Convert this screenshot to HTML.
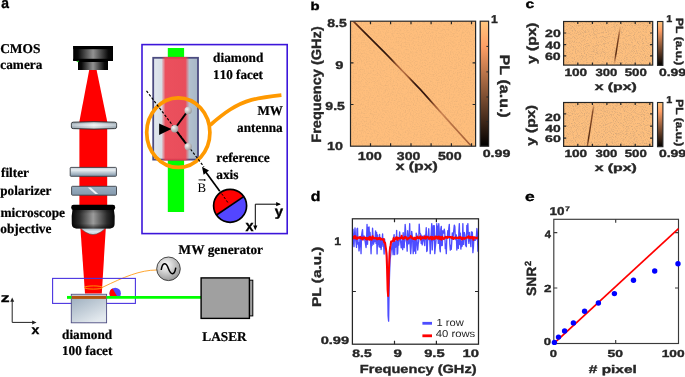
<!DOCTYPE html>
<html><head><meta charset="utf-8"><style>
html,body{margin:0;padding:0;background:#fff;}
body{width:685px;height:377px;overflow:hidden;}
svg{display:block;filter:blur(0.35px);}
text{font-kerning:none;font-variant-ligatures:none;text-rendering:geometricPrecision;}
</style></head><body>
<svg width="685" height="377" viewBox="0 0 685 377">
<defs>
<linearGradient id="camG" x1="0" x2="1" y1="0" y2="0">
 <stop offset="0" stop-color="#000"/><stop offset="0.12" stop-color="#0a0a0a"/><stop offset="0.5" stop-color="#929292"/><stop offset="0.88" stop-color="#0a0a0a"/><stop offset="1" stop-color="#000"/></linearGradient>
<linearGradient id="objG" x1="0" x2="1" y1="0" y2="0">
 <stop offset="0" stop-color="#050505"/><stop offset="0.18" stop-color="#2a2a2a"/><stop offset="0.5" stop-color="#9c9c9c"/><stop offset="0.82" stop-color="#2a2a2a"/><stop offset="1" stop-color="#050505"/></linearGradient>
<linearGradient id="objV" x1="0" x2="0" y1="0" y2="1">
 <stop offset="0" stop-color="#000" stop-opacity="0.35"/><stop offset="0.25" stop-color="#000" stop-opacity="0"/><stop offset="0.75" stop-color="#000" stop-opacity="0"/><stop offset="1" stop-color="#000" stop-opacity="0.6"/></linearGradient>
<linearGradient id="lensG" x1="0" x2="1" y1="0" y2="0">
 <stop offset="0" stop-color="#a8b9c5"/><stop offset="0.5" stop-color="#f7fafc"/><stop offset="1" stop-color="#a8b9c5"/></linearGradient>
<linearGradient id="lensV" x1="0" x2="0" y1="0" y2="1">
 <stop offset="0" stop-color="#000" stop-opacity="0.18"/><stop offset="0.45" stop-color="#fff" stop-opacity="0.3"/><stop offset="1" stop-color="#000" stop-opacity="0.12"/></linearGradient>
<linearGradient id="filtG" x1="0" x2="0" y1="0" y2="1">
 <stop offset="0" stop-color="#c0ccd6"/><stop offset="0.3" stop-color="#e8eef2"/><stop offset="1" stop-color="#7d93a6"/></linearGradient>
<linearGradient id="polG" x1="0" x2="0" y1="0" y2="1">
 <stop offset="0" stop-color="#9aafc1"/><stop offset="1" stop-color="#8499ad"/></linearGradient>
<linearGradient id="objLens" x1="0" x2="0" y1="0" y2="1">
 <stop offset="0" stop-color="#8fa0ad"/><stop offset="0.6" stop-color="#dde6ec"/><stop offset="1" stop-color="#c3d0d9"/></linearGradient>
<linearGradient id="diaG" x1="0" x2="0.6" y1="0" y2="1">
 <stop offset="0" stop-color="#97a9ba"/><stop offset="1" stop-color="#e3e9ee"/></linearGradient>
<linearGradient id="dia110" x1="0" x2="1" y1="0" y2="0">
 <stop offset="0" stop-color="#e2e8ee"/><stop offset="1" stop-color="#a7b7c6"/></linearGradient>
<linearGradient id="redBand" x1="0" x2="1" y1="0" y2="0">
 <stop offset="0" stop-color="#ef3d4b" stop-opacity="0"/><stop offset="0.14" stop-color="#ef3d4b" stop-opacity="0.88"/><stop offset="0.86" stop-color="#ef3d4b" stop-opacity="0.88"/><stop offset="1" stop-color="#ef3d4b" stop-opacity="0"/></linearGradient>
<radialGradient id="nodeG" cx="0.35" cy="0.35" r="0.7">
 <stop offset="0" stop-color="#f4f4f4"/><stop offset="1" stop-color="#9a9a9a"/></radialGradient>
<radialGradient id="genG" cx="0.4" cy="0.35" r="0.75">
 <stop offset="0" stop-color="#ffffff"/><stop offset="1" stop-color="#8c8c8c"/></radialGradient>
<linearGradient id="copper" x1="0" x2="0" y1="1" y2="0">
 <stop offset="0" stop-color="#000"/><stop offset="0.8" stop-color="#ff9f65"/><stop offset="1" stop-color="#ffc77f"/></linearGradient>
<filter id="noise" x="0" y="0" width="1" height="1">
 <feTurbulence type="fractalNoise" baseFrequency="0.75" numOctaves="2" seed="3"/>
 <feColorMatrix values="0 0 0 0 0.55  0 0 0 0 0.32  0 0 0 0 0.15  0.7 0 0 0 -0.30"/>
 <feComposite in2="SourceGraphic" operator="in"/>
</filter>
<filter id="noise2" x="0" y="0" width="1" height="1">
 <feTurbulence type="fractalNoise" baseFrequency="1.1" numOctaves="2" seed="8"/>
 <feColorMatrix values="0 0 0 0 0.62  0 0 0 0 0.36  0 0 0 0 0.18  2.2 0 0 0 -1.0"/>
 <feComposite in2="SourceGraphic" operator="in"/>
</filter>
<filter id="sb" x="-0.5" y="-0.5" width="2" height="2"><feGaussianBlur stdDeviation="0.45"/></filter>
<clipPath id="rbclip"><circle cx="230.1" cy="205.8" r="16.4"/></clipPath>
<clipPath id="rbclip2"><circle cx="115.2" cy="293.4" r="5.7"/></clipPath>
<clipPath id="bclip"><rect x="351" y="21.8" width="124.2" height="123.8"/></clipPath>
</defs>
<text transform="translate(1.19,7.55) scale(0.927,1.0)" font-family='"Liberation Sans", sans-serif' font-size="14.97" font-weight="bold" fill="#000" stroke="#000" stroke-width="0.35">a</text>
<polygon points="89.2,70 96.6,70 107.2,121.5 107.2,205 79.4,205 79.4,121.5" fill="#ff0000"/>
<polygon points="80.4,228 105.8,228 101.8,293.6 85,293.6" fill="#ff0000"/>
<rect x="73.2" y="46" width="39.8" height="14.6" fill="url(#camG)"/>
<rect x="73.2" y="46" width="39.8" height="3.2" fill="#000"/>
<rect x="78" y="60.6" width="30" height="9.4" fill="url(#camG)"/>
<rect x="73.2" y="58.8" width="39.8" height="2.2" fill="#000"/>
<rect x="78" y="60.6" width="30" height="1.4" fill="#000"/>
<path d="M76,61.6 l2.8,-1 l-0.3,1.7 z" fill="#1ed21e"/>
<path d="M71.4,123.6 Q71.4,122.3 73.2,122.2 Q94,121.2 114.7,122.2 Q116.6,122.3 116.6,123.6 L116.6,127.2 Q116.6,128.5 114.7,128.6 Q94,129.6 73.2,128.6 Q71.4,128.5 71.4,127.2 Z" fill="url(#lensG)" stroke="#2a2e33" stroke-width="0.95"/>
<path d="M71.4,123.6 Q71.4,122.3 73.2,122.2 Q94,121.2 114.7,122.2 Q116.6,122.3 116.6,123.6 L116.6,127.2 Q116.6,128.5 114.7,128.6 Q94,129.6 73.2,128.6 Q71.4,128.5 71.4,127.2 Z" fill="url(#lensV)"/>
<rect x="70.2" y="167.4" width="46.2" height="8.9" rx="0.8" fill="url(#filtG)" stroke="#3c4147" stroke-width="0.9"/>
<rect x="71.6" y="186.3" width="44.9" height="8.9" rx="0.8" fill="url(#polG)" stroke="#3c4147" stroke-width="0.9"/>
<path d="M87.8,187.6 L90.8,187.6 L98.2,194 L95.2,194 Z" fill="#eef3f7" filter="url(#sb)"/>
<path d="M79.5,227 L106.5,227 Q100,234.2 93,234.6 Q86,234.2 79.5,227 Z" fill="url(#objLens)" stroke="#555" stroke-width="0.6"/>
<path d="M72.6,209 L113.8,209 Q115.3,216 114.6,224 Q114.3,228.4 110,228.4 L76.4,228.4 Q72.1,228.4 71.8,224 Q71.1,216 72.6,209 Z" fill="url(#objG)"/>
<path d="M72.6,209 L113.8,209 Q115.3,216 114.6,224 Q114.3,228.4 110,228.4 L76.4,228.4 Q72.1,228.4 71.8,224 Q71.1,216 72.6,209 Z" fill="url(#objV)"/>
<rect x="71.2" y="204.8" width="44" height="5.3" rx="2.4" fill="#000"/>
<rect x="142" y="44.6" width="145.2" height="189" fill="none" stroke="#3c16da" stroke-width="1.6"/>
<rect x="167.8" y="48" width="16.3" height="164" fill="#00ff00"/>
<rect x="153.2" y="57.8" width="44.8" height="101.8" fill="url(#dia110)" stroke="#4c4c80" stroke-width="1.8"/>
<rect x="161.5" y="56.9" width="27.8" height="103.6" fill="url(#redBand)"/>
<ellipse cx="178.3" cy="132.6" rx="31.6" ry="34.8" fill="none" stroke="#ff9900" stroke-width="3.7"/>
<line x1="146.5" y1="90.8" x2="204" y2="167" stroke="#000" stroke-width="1.15" stroke-dasharray="2.6,1.7"/>
<line x1="174.7" y1="128.7" x2="188.2" y2="110.4" stroke="#000" stroke-width="1.9"/>
<line x1="174.7" y1="128.7" x2="188.2" y2="146.6" stroke="#000" stroke-width="1.9"/>
<polygon points="159.1,123.4 171.4,129 159.1,134.9" fill="#000"/>
<circle cx="174.7" cy="128.7" r="3.7" fill="url(#nodeG)"/>
<circle cx="188.2" cy="110.4" r="3.7" fill="url(#nodeG)"/>
<circle cx="188.2" cy="146.6" r="3.7" fill="url(#nodeG)"/>
<path d="M210.3,125 C224,113 236,104.2 251.5,99.9 C263.5,97 272,96.1 281.4,95.1" fill="none" stroke="#ff9900" stroke-width="3.7"/>
<line x1="219.8" y1="191.2" x2="205" y2="171" stroke="#000" stroke-width="1.7"/>
<polygon points="202,166.8 209,170.6 203.6,174.8" fill="#000"/>
<g clip-path="url(#rbclip)"><rect x="210" y="185" width="45" height="45" fill="#5346ff"/><polygon points="205,222 255,188.5 255,180 205,180" fill="#ff0000"/></g>
<line x1="216.5" y1="215" x2="243.7" y2="196.6" stroke="#000" stroke-width="1.7"/>
<circle cx="230.1" cy="205.8" r="16.5" fill="none" stroke="#000" stroke-width="1.7"/>
<line x1="221.6" y1="193.6" x2="228.6" y2="203.6" stroke="#000" stroke-width="1" stroke-dasharray="2.4,1.8"/>
<path d="M279.8,204.2 L255.3,204.2 L255.3,229.2" fill="none" stroke="#000" stroke-width="1"/>
<polygon points="280.8,204.2 276.2,202.1 276.2,206.3" fill="#000"/>
<polygon points="255.3,230.2 253.2,225.6 257.4,225.6" fill="#000"/>
<text transform="translate(274.63,215.80) scale(1.087,1.0)" font-family='"Liberation Sans", sans-serif' font-size="13.73" font-weight="bold" fill="#000" stroke="#000" stroke-width="0.35">y</text>
<text transform="translate(245.45,230.55) scale(0.939,1.0)" font-family='"Liberation Sans", sans-serif' font-size="15.33" font-weight="bold" fill="#000" stroke="#000" stroke-width="0.35">x</text>
<text transform="translate(213.11,62.35) scale(1.020,1.03)" font-family='"Liberation Serif", serif' font-size="13.05" font-weight="bold" fill="#000" stroke="#000" stroke-width="0.22">diamond</text>
<text transform="translate(213.10,79.35) scale(1.005,1.03)" font-family='"Liberation Serif", serif' font-size="13.05" font-weight="bold" fill="#000" stroke="#000" stroke-width="0.22">110 facet</text>
<text transform="translate(257.53,115.15) scale(1.002,1.03)" font-family='"Liberation Serif", serif' font-size="13.05" font-weight="bold" fill="#000" stroke="#000" stroke-width="0.22">MW</text>
<text transform="translate(237.12,131.85) scale(1.015,1.03)" font-family='"Liberation Serif", serif' font-size="13.05" font-weight="bold" fill="#000" stroke="#000" stroke-width="0.22">antenna</text>
<text transform="translate(216.29,162.35) scale(1.022,1.03)" font-family='"Liberation Serif", serif' font-size="13.05" font-weight="bold" fill="#000" stroke="#000" stroke-width="0.22">reference</text>
<text transform="translate(216.22,178.95) scale(1.023,1.03)" font-family='"Liberation Serif", serif' font-size="13.05" font-weight="bold" fill="#000" stroke="#000" stroke-width="0.22">axis</text>
<text transform="translate(197.58,191.91) scale(0.998,1.0)" font-family='"Liberation Serif", serif' font-size="12.92" font-weight="normal" fill="#000">B</text>
<line x1="198.6" y1="179.9" x2="205" y2="179.9" stroke="#000" stroke-width="0.9"/>
<polygon points="206.2,179.9 204.2,178.9 204.2,180.9" fill="#000"/>
<text transform="translate(0.14,52.55) scale(1.031,1.03)" font-family='"Liberation Serif", serif' font-size="13.05" font-weight="bold" fill="#000" stroke="#000" stroke-width="0.22">CMOS</text>
<text transform="translate(0.35,69.10) scale(1.015,1.03)" font-family='"Liberation Serif", serif' font-size="13.05" font-weight="bold" fill="#000" stroke="#000" stroke-width="0.22">camera</text>
<text transform="translate(1.05,177.35) scale(1.013,1.03)" font-family='"Liberation Serif", serif' font-size="13.05" font-weight="bold" fill="#000" stroke="#000" stroke-width="0.22">filter</text>
<text transform="translate(0.28,194.55) scale(1.008,1.03)" font-family='"Liberation Serif", serif' font-size="13.05" font-weight="bold" fill="#000" stroke="#000" stroke-width="0.22">polarizer</text>
<text transform="translate(0.39,216.65) scale(1.025,1.03)" font-family='"Liberation Serif", serif' font-size="13.05" font-weight="bold" fill="#000" stroke="#000" stroke-width="0.22">microscope</text>
<text transform="translate(0.24,232.75) scale(1.025,1.03)" font-family='"Liberation Serif", serif' font-size="13.05" font-weight="bold" fill="#000" stroke="#000" stroke-width="0.22">objective</text>
<path d="M102.5,287.3 C124,277 140,270 157,270" fill="none" stroke="#ff9c1a" stroke-width="0.9"/>
<rect x="52.6" y="278.4" width="82.8" height="25" fill="none" stroke="#4a34e0" stroke-width="1.1"/>
<rect x="71.3" y="294.3" width="35.3" height="28.5" fill="url(#diaG)" stroke="#4c4c80" stroke-width="0.9"/>
<rect x="71.8" y="294.8" width="34.3" height="1.3" fill="#c7c3cc"/>
<rect x="71.8" y="296" width="34.3" height="2.9" fill="#b0560f"/>
<g clip-path="url(#rbclip2)"><rect x="108" y="286" width="15" height="10.5" fill="#5346ff"/><polygon points="111.8,287.2 117.3,296.5 105,296.5 105,285" fill="#ff0000"/></g>
<line x1="67" y1="297.4" x2="71.3" y2="297.4" stroke="#00ff00" stroke-width="2.9"/>
<line x1="106.6" y1="297.4" x2="201" y2="297.4" stroke="#00ff00" stroke-width="2.9"/>
<ellipse cx="93.5" cy="287.5" rx="9.1" ry="1.6" fill="none" stroke="#ffa000" stroke-width="0.9"/>
<circle cx="168.5" cy="268.8" r="11.8" fill="url(#genG)" stroke="#222" stroke-width="0.8"/>
<path d="M161.2,270 C162.5,262 166,262 168.5,268.8 C171,275.6 174.5,275.6 175.8,267.6" fill="none" stroke="#000" stroke-width="1.5"/>
<text transform="translate(178.62,254.25) scale(1.017,1.03)" font-family='"Liberation Serif", serif' font-size="13.05" font-weight="bold" fill="#000" stroke="#000" stroke-width="0.22">MW generator</text>
<rect x="249.4" y="280.2" width="3.4" height="35.7" fill="#a0a0a0" stroke="#000" stroke-width="1"/>
<rect x="201.1" y="277.9" width="48.3" height="40.5" fill="#a0a0a0" stroke="#000" stroke-width="1.4"/>
<text transform="translate(202.32,340.55) scale(1.018,1.03)" font-family='"Liberation Serif", serif' font-size="13.05" font-weight="bold" fill="#000" stroke="#000" stroke-width="0.22">LASER</text>
<text transform="translate(62.01,338.75) scale(1.018,1.03)" font-family='"Liberation Serif", serif' font-size="13.05" font-weight="bold" fill="#000" stroke="#000" stroke-width="0.22">diamond</text>
<text transform="translate(61.99,355.45) scale(1.016,1.03)" font-family='"Liberation Serif", serif' font-size="13.05" font-weight="bold" fill="#000" stroke="#000" stroke-width="0.22">100 facet</text>
<path d="M12.2,300.5 L12.2,322.4 L34,322.4" fill="none" stroke="#222" stroke-width="1"/>
<polygon points="12.2,297.5 10.2,301.8 14.2,301.8" fill="#222"/>
<polygon points="36.5,322.4 32.2,320.4 32.2,324.4" fill="#222"/>
<text transform="translate(0.84,301.65) scale(1.395,1.0)" font-family='"Liberation Sans", sans-serif' font-size="12.68" font-weight="bold" fill="#000" stroke="#000" stroke-width="0.35">z</text>
<text transform="translate(31.45,333.85) scale(1.106,1.0)" font-family='"Liberation Sans", sans-serif' font-size="12.68" font-weight="bold" fill="#000" stroke="#000" stroke-width="0.35">x</text>
<text transform="translate(310.57,9.94) scale(1.286,1.0)" font-family='"Liberation Sans", sans-serif' font-size="11.57" font-weight="bold" fill="#000" stroke="#000" stroke-width="0.35">b</text>
<rect x="350.5" y="21.2" width="125.10000000000002" height="124.99999999999999" fill="#ffbe7c"/>
<rect x="350.5" y="21.2" width="125.10000000000002" height="124.99999999999999" fill="#fff" filter="url(#noise)"/>
<linearGradient id="diagG" gradientUnits="userSpaceOnUse" x1="350" y1="0" x2="476" y2="0">
 <stop offset="0" stop-color="#9a5630"/>
 <stop offset="0.05" stop-color="#6a3418"/>
 <stop offset="0.11" stop-color="#3a1a0a"/>
 <stop offset="0.27" stop-color="#2a1208"/>
 <stop offset="0.33" stop-color="#4a2410"/>
 <stop offset="0.37" stop-color="#9a5630"/>
 <stop offset="0.42" stop-color="#b87244"/>
 <stop offset="0.46" stop-color="#a05c34"/>
 <stop offset="0.49" stop-color="#5a2c14"/>
 <stop offset="0.52" stop-color="#2e140a"/>
 <stop offset="0.62" stop-color="#3a1a0c"/>
 <stop offset="0.67" stop-color="#9a5630"/>
 <stop offset="0.73" stop-color="#cc8452"/>
 <stop offset="0.80" stop-color="#b87244"/>
 <stop offset="0.92" stop-color="#a86238"/>
 <stop offset="1" stop-color="#9a5630"/>
</linearGradient>
<g clip-path="url(#bclip)" filter="url(#sb)">
<polyline points="349.8,18.0 353.7,21.6 385.5,53.4 420.5,89.6 451.8,124.6 470.5,145.2 472,147" fill="none" stroke="url(#diagG)" stroke-width="1.6" stroke-linejoin="round"/>
</g>
<rect x="350.5" y="21.2" width="125.10000000000002" height="124.99999999999999" fill="none" stroke="#262626" stroke-width="1.2"/>
<path d="M370.5,146.2v-3M370.5,21.2v3M390.6,146.2v-3M390.6,21.2v3M411,146.2v-3M411,21.2v3M431.1,146.2v-3M431.1,21.2v3M451.4,146.2v-3M451.4,21.2v3M471.5,146.2v-3M471.5,21.2v3M350.5,62.8h3M475.6,62.8h-3M350.5,104.5h3M475.6,104.5h-3" stroke="#262626" stroke-width="1.2"/>
<rect x="480.2" y="21.2" width="8.4" height="125" fill="url(#copper)" stroke="#262626" stroke-width="1.2"/>
<path d="M488.6,46.4h-2.2M488.6,71.9h-2.2M488.6,97h-2.2M488.6,121.7h-2.2" stroke="#262626" stroke-width="1"/>
<text transform="translate(490.88,23.25) scale(1.094,1.0)" font-family='"Liberation Sans", sans-serif' font-size="11.19" font-weight="bold" fill="#262626" stroke="#262626" stroke-width="0.35">1</text>
<text transform="translate(482.69,157.05) scale(1.361,1.0)" font-family='"Liberation Sans", sans-serif' font-size="10.45" font-weight="bold" fill="#262626" stroke="#262626" stroke-width="0.35">0.99</text>
<text transform="translate(327.20,26.94) scale(1.213,1.0)" font-family='"Liberation Sans", sans-serif' font-size="11.58" font-weight="bold" fill="#262626" stroke="#262626" stroke-width="0.35">8.5</text>
<text transform="translate(335.34,68.74) scale(1.314,1.0)" font-family='"Liberation Sans", sans-serif' font-size="11.16" font-weight="bold" fill="#262626" stroke="#262626" stroke-width="0.35">9</text>
<text transform="translate(325.36,109.54) scale(1.216,1.0)" font-family='"Liberation Sans", sans-serif' font-size="11.58" font-weight="bold" fill="#262626" stroke="#262626" stroke-width="0.35">9.5</text>
<text transform="translate(327.05,149.84) scale(1.233,1.0)" font-family='"Liberation Sans", sans-serif' font-size="11.58" font-weight="bold" fill="#262626" stroke="#262626" stroke-width="0.35">10</text>
<text transform="translate(357.64,160.14) scale(1.247,1.0)" font-family='"Liberation Sans", sans-serif' font-size="11.58" font-weight="bold" fill="#262626" stroke="#262626" stroke-width="0.35">100</text>
<text transform="translate(396.83,160.12) scale(1.219,1.0)" font-family='"Liberation Sans", sans-serif' font-size="11.56" font-weight="bold" fill="#262626" stroke="#262626" stroke-width="0.35">300</text>
<text transform="translate(437.91,160.14) scale(1.228,1.0)" font-family='"Liberation Sans", sans-serif' font-size="11.58" font-weight="bold" fill="#262626" stroke="#262626" stroke-width="0.35">500</text>
<text transform="translate(395.64,170.02) scale(1.350,1.0)" font-family='"Liberation Sans", sans-serif' font-size="11.69" font-weight="bold" fill="#262626" stroke="#262626" stroke-width="0.35">x (px)</text>
<text transform="translate(320.94,142.72) rotate(-90) scale(1.077,1)" font-family='"Liberation Sans", sans-serif' font-size="13.52" font-weight="bold" fill="#262626" stroke="#262626" stroke-width="0.35">Frequency (GHz)</text>
<text transform="translate(499.84,54.68) rotate(90) scale(1.146,1)" font-family='"Liberation Sans", sans-serif' font-size="13.95" font-weight="bold" fill="#262626" stroke="#262626" stroke-width="0.35">PL (a.u.)</text>
<text transform="translate(525.44,8.33) scale(1.293,1.0)" font-family='"Liberation Sans", sans-serif' font-size="12.05" font-weight="bold" fill="#000" stroke="#000" stroke-width="0.35">c</text>
<rect x="563.6" y="21.5" width="89.10000000000002" height="43.599999999999994" fill="#fdbf7e"/>
<rect x="563.6" y="21.5" width="89.10000000000002" height="43.599999999999994" fill="#fff" filter="url(#noise2)"/>
<g filter="url(#sb)"><linearGradient id="s1g" gradientUnits="userSpaceOnUse" x1="0" y1="27" x2="0" y2="64"><stop offset="0" stop-color="#d08a50" stop-opacity="0.3"/><stop offset="0.2" stop-color="#8a4a24" stop-opacity="0.8"/><stop offset="0.35" stop-color="#7a4220"/><stop offset="0.72" stop-color="#54280f"/><stop offset="0.85" stop-color="#7a4020" stop-opacity="0.8"/><stop offset="1" stop-color="#d08a50" stop-opacity="0.3"/></linearGradient><line x1="620.2" y1="27" x2="614.3" y2="64" stroke="url(#s1g)" stroke-width="1.45"/></g>
<rect x="563.6" y="21.5" width="89.10000000000002" height="43.599999999999994" fill="none" stroke="#262626" stroke-width="1.2"/>
<path d="M577.8,65.1v-2.6M577.8,21.5v2.6M592.4,65.1v-2.6M592.4,21.5v2.6M606.9,65.1v-2.6M606.9,21.5v2.6M620.8,65.1v-2.6M620.8,21.5v2.6M635.2,65.1v-2.6M635.2,21.5v2.6M649.8,65.1v-2.6M649.8,21.5v2.6M563.6,33h2.6M652.7,33h-2.6M563.6,44.6h2.6M652.7,44.6h-2.6M563.6,55.8h2.6M652.7,55.8h-2.6" stroke="#262626" stroke-width="1.2"/>
<rect x="657.5" y="21.5" width="5.4" height="43.89999999999999" fill="url(#copper)" stroke="#262626" stroke-width="1.1"/>
<text transform="translate(545.06,37.05) scale(1.330,1.0)" font-family='"Liberation Sans", sans-serif' font-size="10.59" font-weight="bold" fill="#262626" stroke="#262626" stroke-width="0.35">20</text>
<text transform="translate(545.34,48.55) scale(1.305,1.0)" font-family='"Liberation Sans", sans-serif' font-size="10.59" font-weight="bold" fill="#262626" stroke="#262626" stroke-width="0.35">40</text>
<text transform="translate(545.03,59.85) scale(1.332,1.0)" font-family='"Liberation Sans", sans-serif' font-size="10.59" font-weight="bold" fill="#262626" stroke="#262626" stroke-width="0.35">60</text>
<text transform="translate(666.17,21.55) scale(1.087,1.0)" font-family='"Liberation Sans", sans-serif' font-size="9.88" font-weight="bold" fill="#262626" stroke="#262626" stroke-width="0.35">1</text>
<text transform="translate(564.49,75.85) scale(1.285,1.0)" font-family='"Liberation Sans", sans-serif' font-size="10.59" font-weight="bold" fill="#262626" stroke="#262626" stroke-width="0.35">100</text>
<text transform="translate(595.45,75.83) scale(1.238,1.0)" font-family='"Liberation Sans", sans-serif' font-size="10.57" font-weight="bold" fill="#262626" stroke="#262626" stroke-width="0.35">300</text>
<text transform="translate(624.74,75.85) scale(1.253,1.0)" font-family='"Liberation Sans", sans-serif' font-size="10.59" font-weight="bold" fill="#262626" stroke="#262626" stroke-width="0.35">500</text>
<text transform="translate(658.90,75.85) scale(1.323,1.0)" font-family='"Liberation Sans", sans-serif' font-size="10.59" font-weight="bold" fill="#262626" stroke="#262626" stroke-width="0.35">0.99</text>
<text transform="translate(594.64,89.89) scale(1.520,1.0)" font-family='"Liberation Sans", sans-serif' font-size="10.41" font-weight="bold" fill="#262626" stroke="#262626" stroke-width="0.35">x (px)</text>
<text transform="translate(535.51,63.97) rotate(-90) scale(1.179,1)" font-family='"Liberation Sans", sans-serif' font-size="13.20" font-weight="bold" fill="#262626" stroke="#262626" stroke-width="0.35">y (px)</text>
<text transform="translate(676.41,18.05) rotate(90) scale(1.150,1)" font-family='"Liberation Sans", sans-serif' font-size="10.41" font-weight="bold" fill="#262626" stroke="#262626" stroke-width="0.35">PL (a.u.)</text>
<rect x="563.6" y="102.5" width="89.10000000000002" height="43.900000000000006" fill="#fdbf7e"/>
<rect x="563.6" y="102.5" width="89.10000000000002" height="43.900000000000006" fill="#fff" filter="url(#noise2)"/>
<g filter="url(#sb)"><linearGradient id="s2g" gradientUnits="userSpaceOnUse" x1="0" y1="105" x2="0" y2="146.5"><stop offset="0" stop-color="#c08050" stop-opacity="0.4"/><stop offset="0.15" stop-color="#7a4020" stop-opacity="0.9"/><stop offset="0.45" stop-color="#7a4220"/><stop offset="0.8" stop-color="#54280f"/><stop offset="1" stop-color="#7a4020" stop-opacity="0.7"/></linearGradient><line x1="593.8" y1="105" x2="587.3" y2="146.5" stroke="url(#s2g)" stroke-width="1.45"/></g>
<rect x="563.6" y="102.5" width="89.10000000000002" height="43.900000000000006" fill="none" stroke="#262626" stroke-width="1.2"/>
<path d="M577.8,146.4v-2.6M577.8,102.5v2.6M592.4,146.4v-2.6M592.4,102.5v2.6M606.9,146.4v-2.6M606.9,102.5v2.6M620.8,146.4v-2.6M620.8,102.5v2.6M635.2,146.4v-2.6M635.2,102.5v2.6M649.8,146.4v-2.6M649.8,102.5v2.6M563.6,113.8h2.6M652.7,113.8h-2.6M563.6,126.2h2.6M652.7,126.2h-2.6M563.6,138.2h2.6M652.7,138.2h-2.6" stroke="#262626" stroke-width="1.2"/>
<rect x="657.5" y="102.5" width="5.4" height="44.2" fill="url(#copper)" stroke="#262626" stroke-width="1.1"/>
<text transform="translate(545.06,120.55) scale(1.348,1.0)" font-family='"Liberation Sans", sans-serif' font-size="10.45" font-weight="bold" fill="#262626" stroke="#262626" stroke-width="0.35">20</text>
<text transform="translate(545.34,131.55) scale(1.359,1.0)" font-family='"Liberation Sans", sans-serif' font-size="10.17" font-weight="bold" fill="#262626" stroke="#262626" stroke-width="0.35">40</text>
<text transform="translate(545.03,142.15) scale(1.448,1.0)" font-family='"Liberation Sans", sans-serif' font-size="9.75" font-weight="bold" fill="#262626" stroke="#262626" stroke-width="0.35">60</text>
<text transform="translate(666.17,102.55) scale(1.087,1.0)" font-family='"Liberation Sans", sans-serif' font-size="9.88" font-weight="bold" fill="#262626" stroke="#262626" stroke-width="0.35">1</text>
<text transform="translate(564.49,157.35) scale(1.303,1.0)" font-family='"Liberation Sans", sans-serif' font-size="10.45" font-weight="bold" fill="#262626" stroke="#262626" stroke-width="0.35">100</text>
<text transform="translate(595.45,157.33) scale(1.255,1.0)" font-family='"Liberation Sans", sans-serif' font-size="10.43" font-weight="bold" fill="#262626" stroke="#262626" stroke-width="0.35">300</text>
<text transform="translate(624.74,157.35) scale(1.270,1.0)" font-family='"Liberation Sans", sans-serif' font-size="10.45" font-weight="bold" fill="#262626" stroke="#262626" stroke-width="0.35">500</text>
<text transform="translate(658.90,157.35) scale(1.341,1.0)" font-family='"Liberation Sans", sans-serif' font-size="10.45" font-weight="bold" fill="#262626" stroke="#262626" stroke-width="0.35">0.99</text>
<text transform="translate(594.64,171.41) scale(1.536,1.0)" font-family='"Liberation Sans", sans-serif' font-size="10.30" font-weight="bold" fill="#262626" stroke="#262626" stroke-width="0.35">x (px)</text>
<text transform="translate(535.02,145.77) rotate(-90) scale(1.214,1)" font-family='"Liberation Sans", sans-serif' font-size="12.66" font-weight="bold" fill="#262626" stroke="#262626" stroke-width="0.35">y (px)</text>
<text transform="translate(676.41,99.15) rotate(90) scale(1.150,1)" font-family='"Liberation Sans", sans-serif' font-size="10.41" font-weight="bold" fill="#262626" stroke="#262626" stroke-width="0.35">PL (a.u.)</text>
<text transform="translate(310.80,201.11) scale(1.143,1.0)" font-family='"Liberation Sans", sans-serif' font-size="13.89" font-weight="bold" fill="#000" stroke="#000" stroke-width="0.35">d</text>
<rect x="352.4" y="218.8" width="126.10000000000002" height="125.39999999999998" fill="#fff"/>
<polyline points="353.00,228.85 353.50,241.66 354.00,246.60 354.50,234.54 355.01,228.02 355.51,238.12 356.01,242.47 356.51,247.43 357.01,228.93 357.51,228.32 358.02,244.30 358.52,242.45 359.02,250.92 359.52,246.51 360.02,237.85 360.52,236.47 361.03,253.66 361.53,236.36 362.03,232.40 362.53,229.58 363.03,239.44 363.53,239.84 364.04,235.93 364.54,238.19 365.04,240.87 365.54,244.23 366.04,247.47 366.54,240.38 367.04,224.41 367.55,244.32 368.05,227.38 368.55,237.36 369.05,226.96 369.55,238.76 370.05,232.53 370.56,240.47 371.06,253.74 371.56,238.39 372.06,245.51 372.56,228.24 373.06,236.51 373.57,244.11 374.07,238.11 374.57,241.82 375.07,239.71 375.57,230.88 376.07,243.42 376.58,232.49 377.08,253.90 377.58,235.01 378.08,244.53 378.58,239.14 379.08,246.75 379.59,234.46 380.09,247.25 380.59,238.44 381.09,249.53 381.59,244.61 382.09,240.96 382.59,233.93 383.10,246.38 383.60,244.39 384.10,253.99 384.60,239.05 385.10,247.22 385.60,248.40 386.11,249.29 386.61,253.35 387.11,262.28 387.61,278.56 388.11,315.59 388.61,321.12 389.12,287.70 389.62,271.99 390.12,259.48 390.62,255.33 391.12,250.69 391.62,248.50 392.13,243.50 392.63,247.32 393.13,254.64 393.63,237.84 394.13,234.65 394.63,254.66 395.13,241.63 395.64,247.24 396.14,246.36 396.64,230.32 397.14,254.14 397.64,253.30 398.14,240.53 398.65,245.06 399.15,240.04 399.65,231.95 400.15,238.07 400.65,241.92 401.15,247.80 401.66,244.54 402.16,239.34 402.66,249.66 403.16,232.76 403.66,245.14 404.16,247.68 404.67,236.46 405.17,224.48 405.67,231.53 406.17,240.65 406.67,242.97 407.17,251.11 407.68,230.71 408.18,238.74 408.68,243.91 409.18,237.46 409.68,223.73 410.18,245.15 410.68,253.68 411.19,246.72 411.69,231.36 412.19,235.39 412.69,240.46 413.19,253.67 413.69,243.61 414.20,239.58 414.70,251.12 415.20,238.02 415.70,253.55 416.20,233.19 416.70,234.87 417.21,244.42 417.71,250.05 418.21,243.88 418.71,241.07 419.21,224.09 419.71,232.95 420.22,233.77 420.72,234.38 421.22,243.34 421.72,235.97 422.22,244.94 422.72,239.30 423.22,235.98 423.73,239.59 424.23,242.07 424.73,245.50 425.23,234.82 425.73,236.78 426.23,227.73 426.74,251.46 427.24,250.24 427.74,237.20 428.24,234.81 428.74,228.75 429.24,239.99 429.75,240.28 430.25,253.62 430.75,240.60 431.25,232.41 431.75,223.63 432.25,249.90 432.76,240.14 433.26,225.75 433.76,240.07 434.26,225.76 434.76,253.62 435.26,247.57 435.77,243.20 436.27,237.22 436.77,223.63 437.27,237.61 437.77,226.19 438.27,243.39 438.77,223.62 439.28,231.36 439.78,248.37 440.28,251.77 440.78,229.17 441.28,226.35 441.78,245.65 442.29,245.44 442.79,230.73 443.29,233.06 443.79,233.07 444.29,229.10 444.79,233.18 445.30,248.62 445.80,244.13 446.30,253.61 446.80,237.92 447.30,237.53 447.80,230.76 448.31,237.62 448.81,228.11 449.31,224.40 449.81,244.19 450.31,250.13 450.81,245.31 451.31,249.27 451.82,240.63 452.32,232.87 452.82,239.30 453.32,235.62 453.82,229.72 454.32,225.07 454.83,226.75 455.33,238.57 455.83,239.82 456.33,234.81 456.83,250.04 457.33,240.04 457.84,243.27 458.34,248.36 458.84,232.05 459.34,223.61 459.84,244.63 460.34,233.10 460.85,249.10 461.35,241.31 461.85,246.66 462.35,244.72 462.85,223.61 463.35,244.36 463.86,233.22 464.36,232.56 464.86,235.13 465.36,244.75 465.86,245.68 466.36,246.70 466.86,225.33 467.37,233.88 467.87,223.61 468.37,237.79 468.87,243.41 469.37,232.50 469.87,240.57 470.38,240.46 470.88,246.67 471.38,232.04 471.88,231.98 472.38,232.50 472.88,252.63 473.39,247.33 473.89,237.62 474.39,240.41 474.89,239.52 475.39,240.23 475.89,236.94 476.40,235.93 476.90,228.55 477.40,233.47 477.90,251.81" fill="none" stroke="#4d4dff" stroke-width="1.35" stroke-linejoin="round"/>
<polyline points="353.00,236.96 353.50,236.98 354.00,238.35 354.50,236.13 355.01,237.74 355.51,236.16 356.01,238.68 356.51,238.01 357.01,238.87 357.51,237.48 358.02,238.16 358.52,237.65 359.02,237.31 359.52,237.97 360.02,236.92 360.52,237.60 361.03,238.40 361.53,237.92 362.03,237.57 362.53,239.52 363.03,237.93 363.53,237.45 364.04,238.01 364.54,237.50 365.04,237.61 365.54,237.64 366.04,239.43 366.54,237.93 367.04,238.05 367.55,238.43 368.05,239.45 368.55,237.77 369.05,237.48 369.55,239.81 370.05,236.87 370.56,237.70 371.06,238.48 371.56,239.71 372.06,237.30 372.56,236.20 373.06,238.53 373.57,237.66 374.07,237.78 374.57,238.44 375.07,238.28 375.57,238.36 376.07,237.85 376.58,239.17 377.08,239.37 377.58,238.31 378.08,237.99 378.58,238.94 379.08,238.82 379.59,237.76 380.09,238.29 380.59,239.53 381.09,238.81 381.59,238.81 382.09,239.44 382.59,239.53 383.10,239.92 383.60,238.96 384.10,242.39 384.60,242.20 385.10,242.83 385.60,246.50 386.11,249.81 386.61,256.43 387.11,269.77 387.61,289.68 388.11,296.01 388.61,280.32 389.12,264.05 389.62,252.07 390.12,247.22 390.62,245.19 391.12,241.48 391.62,241.37 392.13,241.72 392.63,240.95 393.13,240.18 393.63,238.00 394.13,240.94 394.63,239.39 395.13,239.40 395.64,239.06 396.14,237.30 396.64,237.42 397.14,237.51 397.64,239.80 398.14,237.69 398.65,238.08 399.15,238.03 399.65,238.62 400.15,238.53 400.65,238.33 401.15,237.16 401.66,235.73 402.16,238.19 402.66,238.25 403.16,238.95 403.66,237.94 404.16,237.54 404.67,238.30 405.17,236.81 405.67,237.19 406.17,237.21 406.67,238.17 407.17,239.51 407.68,238.51 408.18,238.79 408.68,238.10 409.18,238.13 409.68,237.58 410.18,237.70 410.68,236.08 411.19,237.00 411.69,236.93 412.19,238.52 412.69,238.38 413.19,238.74 413.69,239.05 414.20,237.65 414.70,238.67 415.20,239.34 415.70,237.86 416.20,238.68 416.70,237.74 417.21,236.65 417.71,237.95 418.21,237.24 418.71,237.94 419.21,237.51 419.71,238.09 420.22,236.25 420.72,239.41 421.22,238.87 421.72,237.58 422.22,237.16 422.72,237.85 423.22,238.35 423.73,238.16 424.23,238.14 424.73,236.36 425.23,236.99 425.73,238.84 426.23,238.02 426.74,236.69 427.24,237.18 427.74,236.75 428.24,237.07 428.74,238.72 429.24,237.66 429.75,238.68 430.25,237.97 430.75,236.69 431.25,237.34 431.75,239.57 432.25,237.24 432.76,237.03 433.26,238.77 433.76,237.89 434.26,237.82 434.76,238.94 435.26,236.48 435.77,238.14 436.27,237.02 436.77,236.75 437.27,237.20 437.77,238.70 438.27,237.71 438.77,236.42 439.28,236.97 439.78,238.99 440.28,238.60 440.78,236.98 441.28,239.68 441.78,237.54 442.29,236.90 442.79,237.71 443.29,238.53 443.79,239.05 444.29,238.61 444.79,237.49 445.30,237.39 445.80,236.70 446.30,237.76 446.80,237.36 447.30,238.00 447.80,236.84 448.31,237.42 448.81,237.14 449.31,236.89 449.81,236.91 450.31,237.03 450.81,236.91 451.31,238.25 451.82,237.89 452.32,236.80 452.82,238.21 453.32,238.03 453.82,238.93 454.32,237.66 454.83,237.65 455.33,237.28 455.83,237.91 456.33,238.19 456.83,237.95 457.33,237.62 457.84,238.24 458.34,237.88 458.84,238.00 459.34,237.09 459.84,237.97 460.34,237.05 460.85,237.16 461.35,237.93 461.85,239.43 462.35,238.57 462.85,237.81 463.35,237.67 463.86,238.57 464.36,238.87 464.86,238.75 465.36,237.67 465.86,237.95 466.36,237.56 466.86,237.59 467.37,237.15 467.87,237.62 468.37,236.16 468.87,236.89 469.37,238.13 469.87,237.10 470.38,238.22 470.88,236.82 471.38,237.52 471.88,238.11 472.38,237.01 472.88,237.26 473.39,239.70 473.89,237.28 474.39,237.27 474.89,237.37 475.39,237.83 475.89,237.79 476.40,238.56 476.90,238.41 477.40,237.50 477.90,237.53" fill="none" stroke="#ff0000" stroke-width="2" stroke-linejoin="round"/>
<rect x="352.4" y="218.8" width="126.10000000000002" height="125.39999999999998" fill="none" stroke="#262626" stroke-width="1.25"/>
<path d="M394.5,344.2v-3.5M394.5,218.8v3.5M436.4,344.2v-3.5M436.4,218.8v3.5M352.4,291.5h3.5M478.5,291.5h-3.5" stroke="#262626" stroke-width="1.2"/>
<line x1="422.4" y1="323.3" x2="432" y2="323.3" stroke="#4d4dff" stroke-width="2.8"/>
<line x1="422.4" y1="335.8" x2="432" y2="335.8" stroke="#ff0000" stroke-width="2.8"/>
<text transform="translate(436.40,325.85) scale(1.083,1.0)" font-family='"Liberation Sans", sans-serif' font-size="10.32" font-weight="normal" fill="#262626">1 row</text>
<text transform="translate(435.69,337.35) scale(1.127,1.0)" font-family='"Liberation Sans", sans-serif' font-size="10.03" font-weight="normal" fill="#262626">40 rows</text>
<text transform="translate(334.18,244.85) scale(1.124,1.0)" font-family='"Liberation Sans", sans-serif' font-size="10.90" font-weight="bold" fill="#262626" stroke="#262626" stroke-width="0.35">1</text>
<text transform="translate(320.67,344.44) scale(1.343,1.0)" font-family='"Liberation Sans", sans-serif' font-size="10.88" font-weight="bold" fill="#262626" stroke="#262626" stroke-width="0.35">0.99</text>
<text transform="translate(352.31,357.34) scale(1.278,1.0)" font-family='"Liberation Sans", sans-serif' font-size="10.88" font-weight="bold" fill="#262626" stroke="#262626" stroke-width="0.35">8.5</text>
<text transform="translate(393.43,357.34) scale(1.386,1.0)" font-family='"Liberation Sans", sans-serif' font-size="10.88" font-weight="bold" fill="#262626" stroke="#262626" stroke-width="0.35">9</text>
<text transform="translate(424.14,357.34) scale(1.351,1.0)" font-family='"Liberation Sans", sans-serif' font-size="10.88" font-weight="bold" fill="#262626" stroke="#262626" stroke-width="0.35">9.5</text>
<text transform="translate(462.52,357.34) scale(1.359,1.0)" font-family='"Liberation Sans", sans-serif' font-size="10.88" font-weight="bold" fill="#262626" stroke="#262626" stroke-width="0.35">10</text>
<text transform="translate(359.87,373.40) scale(1.236,1.0)" font-family='"Liberation Sans", sans-serif' font-size="11.80" font-weight="bold" fill="#262626" stroke="#262626" stroke-width="0.35">Frequency (GHz)</text>
<text transform="translate(320.62,306.97) rotate(-90) scale(1.209,1)" font-family='"Liberation Sans", sans-serif' font-size="12.66" font-weight="bold" fill="#262626" stroke="#262626" stroke-width="0.35">PL (a.u.)</text>
<text transform="translate(525.07,200.82) scale(1.305,1.0)" font-family='"Liberation Sans", sans-serif' font-size="13.32" font-weight="bold" fill="#000" stroke="#000" stroke-width="0.35">e</text>
<rect x="553.8" y="219.3" width="124.70000000000005" height="124.19999999999999" fill="#fff" stroke="#3a3a3a" stroke-width="1.15"/>
<path d="M615.7,343.5v-3.5M615.7,219.3v3.5M553.8,232.6h3.5M678.5,232.6h-3.5M553.8,288h3.5M678.5,288h-3.5" stroke="#3a3a3a" stroke-width="1.15"/>
<line x1="554" y1="343.3" x2="678.5" y2="228.6" stroke="#ff0000" stroke-width="1.7"/>
<circle cx="554.4" cy="342.4" r="2.7" fill="#0000ff"/>
<circle cx="558.5" cy="337.1" r="2.7" fill="#0000ff"/>
<circle cx="564.6" cy="331" r="2.7" fill="#0000ff"/>
<circle cx="573.4" cy="322.9" r="2.7" fill="#0000ff"/>
<circle cx="584.6" cy="311.2" r="2.7" fill="#0000ff"/>
<circle cx="598.4" cy="303" r="2.7" fill="#0000ff"/>
<circle cx="614.4" cy="293.6" r="2.7" fill="#0000ff"/>
<circle cx="633.5" cy="280.3" r="2.7" fill="#0000ff"/>
<circle cx="654.7" cy="271" r="2.7" fill="#0000ff"/>
<circle cx="678" cy="263.8" r="2.7" fill="#0000ff"/>
<text transform="translate(549.55,215.49) scale(1.179,1.0)" font-family='"Liberation Sans", sans-serif' font-size="11.44" font-weight="bold" fill="#262626" stroke="#262626" stroke-width="0.35">10</text>
<text transform="translate(565.15,210.70) scale(1.211,1.0)" font-family='"Liberation Sans", sans-serif' font-size="6.69" font-weight="bold" fill="#262626" stroke="#262626" stroke-width="0.35">7</text>
<text transform="translate(544.68,237.85) scale(1.014,1.0)" font-family='"Liberation Sans", sans-serif' font-size="11.05" font-weight="bold" fill="#262626" stroke="#262626" stroke-width="0.35">4</text>
<text transform="translate(543.88,291.65) scale(1.309,1.0)" font-family='"Liberation Sans", sans-serif' font-size="10.31" font-weight="bold" fill="#262626" stroke="#262626" stroke-width="0.35">2</text>
<text transform="translate(543.63,344.85) scale(1.282,1.0)" font-family='"Liberation Sans", sans-serif' font-size="10.17" font-weight="bold" fill="#262626" stroke="#262626" stroke-width="0.35">0</text>
<text transform="translate(549.73,357.05) scale(1.282,1.0)" font-family='"Liberation Sans", sans-serif' font-size="10.17" font-weight="bold" fill="#262626" stroke="#262626" stroke-width="0.35">0</text>
<text transform="translate(607.42,357.05) scale(1.370,1.0)" font-family='"Liberation Sans", sans-serif' font-size="10.17" font-weight="bold" fill="#262626" stroke="#262626" stroke-width="0.35">50</text>
<text transform="translate(661.68,357.05) scale(1.351,1.0)" font-family='"Liberation Sans", sans-serif' font-size="10.17" font-weight="bold" fill="#262626" stroke="#262626" stroke-width="0.35">100</text>
<text transform="translate(588.79,372.86) scale(1.394,1.0)" font-family='"Liberation Sans", sans-serif' font-size="11.05" font-weight="bold" fill="#262626" stroke="#262626" stroke-width="0.35"># pixel</text>
<text transform="translate(536.32,296.05) rotate(-90) scale(1.037,1)" font-family='"Liberation Sans", sans-serif' font-size="13.42" font-weight="bold" fill="#262626" stroke="#262626" stroke-width="0.35">SNR</text>
<text transform="translate(530.50,266.12) rotate(-90) scale(1.029,1)" font-family='"Liberation Sans", sans-serif' font-size="8.88" font-weight="bold" fill="#262626" stroke="#262626" stroke-width="0.35">2</text>
</svg>
</body></html>
